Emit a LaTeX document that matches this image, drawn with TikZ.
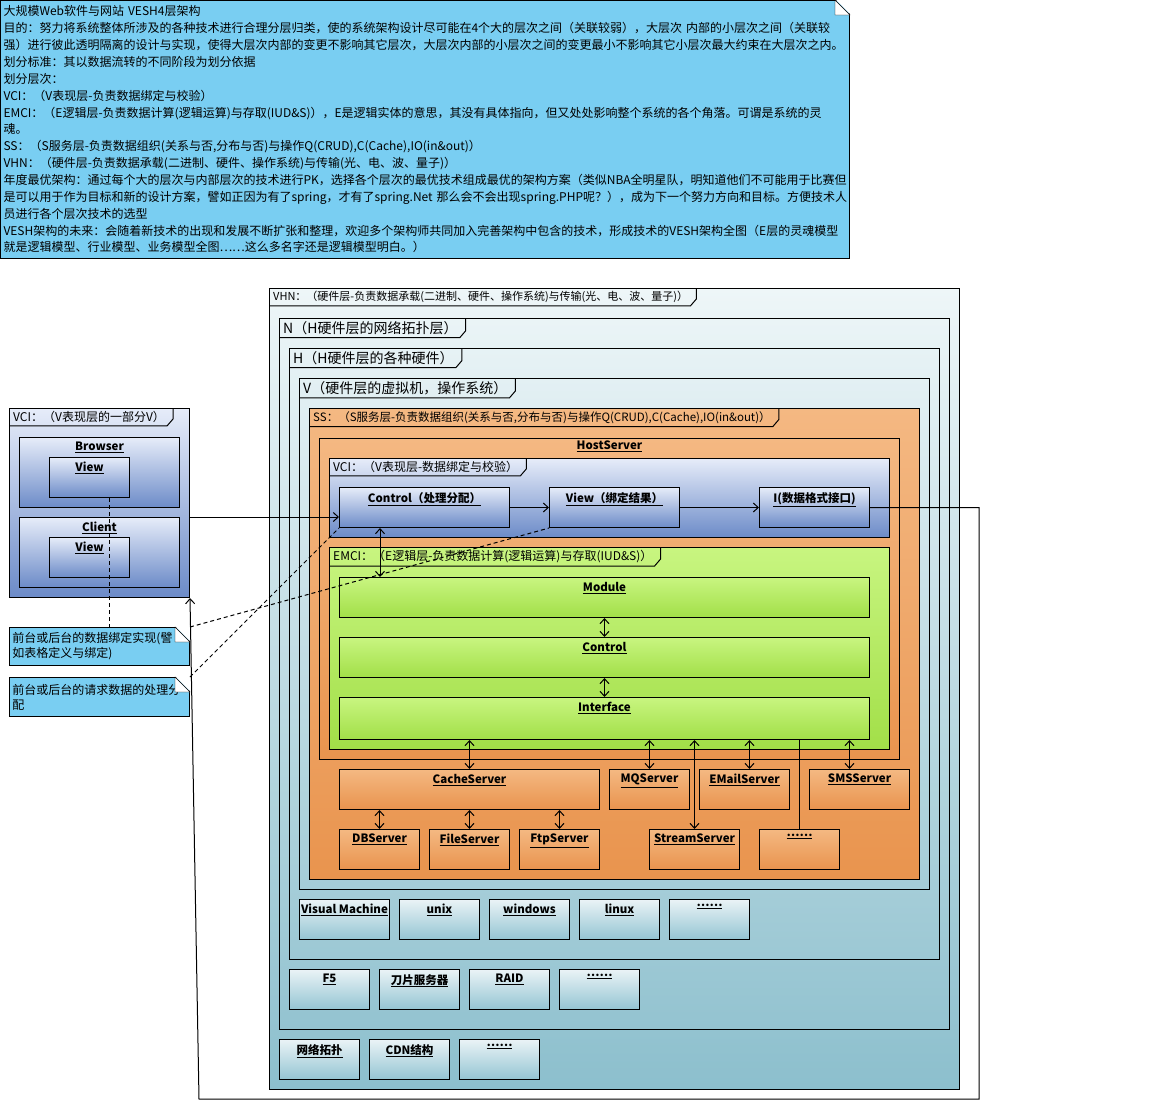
\documentclass[tikz,border=0pt]{standalone}
\usepackage{fontspec}
\setmainfont{Noto Sans CJK SC}
\usetikzlibrary{arrows.meta, calc, positioning}

\definecolor{notebg}{RGB}{121,206,242}
\definecolor{vhntop}{RGB}{238,246,248}
\definecolor{vhnbot}{RGB}{140,191,205}
\definecolor{hwtop}{RGB}{234,243,246}
\definecolor{hwbot}{RGB}{148,197,211}
\definecolor{orgtop}{RGB}{244,184,130}
\definecolor{orgbot}{RGB}{233,148,78}
\definecolor{blutop}{RGB}{230,236,249}
\definecolor{blubot}{RGB}{108,139,200}
\definecolor{grntop}{RGB}{200,245,128}
\definecolor{grnbot}{RGB}{162,223,72}

\begin{document}
\begin{tikzpicture}[x=1pt, y=-1pt,
    box/.style={draw, line width=1pt, anchor=north west, inner sep=0pt, minimum width=80, minimum height=40},
    frame/.style={draw, line width=1pt, anchor=north west, inner sep=0pt},
    ttl/.style={anchor=north, inner xsep=3pt, inner ysep=5pt, font=\fontsize{11.5}{13}\selectfont\bfseries},
    tbox/.style={box, label={[ttl]north:\underline{#1}}},
    tab/.style={anchor=north west, inner xsep=4pt, inner ysep=3pt},
    note/.style={draw, line width=1pt, fill=notebg, anchor=north west, align=left, inner sep=3pt},
    blu/.style={top color=blutop, bottom color=blubot},
    orng/.style={top color=orgtop, bottom color=orgbot},
    grn/.style={top color=grntop, bottom color=grnbot},
    hw/.style={top color=hwtop, bottom color=hwbot},
    arr/.style={line width=1pt, -{Straight Barb[length=5pt, width=9pt]}},
    dbl/.style={line width=1pt, {Straight Barb[length=5pt, width=9pt]}-{Straight Barb[length=5pt, width=9pt]}},
    dsh/.style={line width=1pt, dash pattern=on 4pt off 3pt}]
    \useasboundingbox (0,0) rectangle (1154,1117);

    % the long note on top
    \node[note, text width=843, minimum height=258, font=\fontsize{12}{16.86}\selectfont] (topnote) at (0,0) {%
        大规模Web软件与网站  VESH4层架构\\
        目的：努力将系统整体所涉及的各种技术进行合理分层归类，使的系统架构设计尽可能在4个大的层次之间（关联较弱），大层次 内部的小层次之间（关联较\\
        强）进行彼此透明隔离的设计与实现，使得大层次内部的变更不影响其它层次，大层次内部的小层次之间的变更最小不影响其它小层次最大约束在大层次之内。\\
        划分标准：其以数据流转的不同阶段为划分依据\\
        划分层次：\\
        VCI：（V表现层-负责数据绑定与校验）\\
        EMCI：（E逻辑层-负责数据计算(逻辑运算)与存取(IUD\&S)），E是逻辑实体的意思，其没有具体指向，但又处处影响整个系统的各个角落。可谓是系统的灵\\
        魂。\\
        SS：（S服务层-负责数据组织(关系与否,分布与否)与操作Q(CRUD),C(Cache),IO(in\&out)）\\
        VHN：（硬件层-负责数据承载(二进制、硬件、操作系统)与传输(光、电、波、量子)）\\
        年度最优架构：通过每个大的层次与内部层次的技术进行PK，选择各个层次的最优技术组成最优的架构方案（类似NBA全明星队，明知道他们不可能用于比赛但\\
        是可以用于作为目标和新的设计方案，譬如正因为有了spring，才有了spring.Net 那么会不会出现spring.PHP呢？），成为下一个努力方向和目标。方便技术人\\
        员进行各个层次技术的选型\\
        VESH架构的未来：会随着新技术的出现和发展不断扩张和整理，欢迎多个架构师共同加入完善架构中包含的技术，形成技术的VESH架构全图（E层的灵魂模型\\
        就是逻辑模型、行业模型、业务模型全图……这么多名字还是逻辑模型明白。）};

    % hardware frames
    \node[frame, minimum width=690, minimum height=801, top color=vhntop, bottom color=vhnbot] (vhn) at (269,288) {};
    \node[tab, font=\fontsize{11}{13}\selectfont] (vhnT) at (vhn.north west) {VHN：（硬件层-负责数据承载(二进制、硬件、操作系统)与传输(光、电、波、量子)）};
    \node[frame, minimum width=670, minimum height=711] (nfr) at (279,318) {};
    \node[tab, font=\fontsize{14}{16}\selectfont] (nT) at (nfr.north west) {N（H硬件层的网络拓扑层）};
    \node[frame, minimum width=650, minimum height=611] (hfr) at (289,348) {};
    \node[tab, font=\fontsize{14}{16}\selectfont] (hT) at (hfr.north west) {H（H硬件层的各种硬件）};
    \node[frame, minimum width=630, minimum height=511] (vfr) at (299,378) {};
    \node[tab, font=\fontsize{14}{16}\selectfont] (vT) at (vfr.north west) {V（硬件层的虚拟机，操作系统）};

    % service layer
    \node[frame, orng, minimum width=610, minimum height=471] (ss) at (309,408) {};
    \node[tab, font=\fontsize{11.5}{13}\selectfont] (ssT) at (ss.north west) {SS：（S服务层-负责数据组织(关系与否,分布与否)与操作Q(CRUD),C(Cache),IO(in\&out)）};
    \node[frame, orng, minimum width=580, minimum height=321, label={[ttl, inner ysep=3pt]north:\underline{HostServer}}] (host) at (319,438) {};

    \node[frame, blu, minimum width=560, minimum height=79] (vci) at (329,458) {};
    \node[tab, font=\fontsize{12}{14}\selectfont] (vciT) at (vci.north west) {VCI：（V表现层-数据绑定与校验）};
    \node[tbox={Control（处理分配）}, blu, minimum width=170] (ctl) at (339,487) {};
    \node[tbox={View（绑定结果）}, blu, minimum width=130] (view) at (549,487) {};
    \node[tbox={I(数据格式接口)}, blu, minimum width=110] (ifmt) at (759,487) {};

    \node[frame, grn, minimum width=560, minimum height=202] (emci) at (329,547) {};
    \node[tab, font=\fontsize{12}{14}\selectfont] (emciT) at (emci.north west) {EMCI：（E逻辑层-负责数据计算(逻辑运算)与存取(IUD\&S)）};
    \node[tbox=Module, grn, minimum width=530] (module) at (339,577) {};
    \node[tbox=Control, grn, minimum width=530] (ectl) at (339,637) {};
    \node[tbox=Interface, grn, minimum width=530, minimum height=42] (intf) at (339,697) {};

    \node[tbox=CacheServer, orng, minimum width=260] (cache) at (339,769) {};
    \node[tbox=MQServer, orng] (mq) at (609,769) {};
    \node[tbox=EMailServer, orng, minimum width=90] (email) at (699,769) {};
    \node[tbox=SMSServer, orng, minimum width=100] (sms) at (809,769) {};
    \node[tbox=DBServer, orng] (db) at (339,829) {};
    \node[tbox=FileServer, orng] (file) at (429,829) {};
    \node[tbox=FtpServer, orng] (ftp) at (519,829) {};
    \node[tbox=StreamServer, orng, minimum width=90] (stream) at (649,829) {};
    \node[tbox=……, orng] (more1) at (759,829) {};

    % virtual machines, hardware, network
    \node[tbox={Visual Machine}, hw, minimum width=90] (vm) at (299,899) {};
    \node[tbox=unix, hw] (unix) at (399,899) {};
    \node[tbox=windows, hw] (win) at (489,899) {};
    \node[tbox=linux, hw] (linux) at (579,899) {};
    \node[tbox=……, hw] (more2) at (669,899) {};
    \node[tbox=F5, hw] (f5) at (289,969) {};
    \node[tbox=刀片服务器, hw] (blade) at (379,969) {};
    \node[tbox=RAID, hw] (raid) at (469,969) {};
    \node[tbox=……, hw] (more3) at (559,969) {};
    \node[tbox=网络拓扑, hw] (net) at (279,1039) {};
    \node[tbox=CDN结构, hw] (cdn) at (369,1039) {};
    \node[tbox=……, hw] (more4) at (459,1039) {};

    % client side
    \node[frame, blu, minimum width=180, minimum height=189] (lvci) at (9,408) {};
    \node[tab, font=\fontsize{12}{14}\selectfont] (lvciT) at (lvci.north west) {VCI：（V表现层的一部分V）};
    \node[tbox=Browser, blu, minimum width=160, minimum height=70] (browser) at (19,437) {};
    \node[tbox=View, blu] (bview) at (49,457) {};
    \node[tbox=Client, blu, minimum width=160, minimum height=70] (client) at (19,517) {};
    \node[tbox=View, blu] (cview) at (49,537) {};

    \node[note, text width=174, minimum height=38, font=\fontsize{12}{15}\selectfont] (note1) at (9,627) {前台或后台的数据绑定实现(譬\\如表格定义与绑定)};
    \node[note, text width=174, minimum height=39, font=\fontsize{12}{15}\selectfont] (note2) at (9,677) {前台或后台的请求数据的处理分\\配};

    % tabs and folded corners
    \foreach \t in {vhnT, nT, hT, vT, ssT, vciT, emciT, lvciT}
        \draw[line width=1pt] (\t.south west) -- ([xshift=-2]\t.south east) -- ([xshift=4,yshift=7]\t.south east) -- ([xshift=4]\t.north east);
    \foreach \n in {topnote, note1, note2} {
        \fill[white] ([xshift=-15,yshift=1]\n.north east) -- ([xshift=1,yshift=1]\n.north east) -- ([xshift=1,yshift=-15]\n.north east) -- cycle;
        \draw[fill=white] ([xshift=-15]\n.north east) -- ([xshift=-15,yshift=-15]\n.north east) -- ([yshift=-15]\n.north east) -- cycle;
    }

    % connectors
    \coordinate (rt) at (979,1099);
    \coordinate (lb) at (199,1099);
    \draw[arr] (client.north -| lvci.east) -- (client.north -| ctl.west);
    \draw[arr] (ctl.east) -- (view.west);
    \draw[arr] (view.east) -- (ifmt.west);
    \draw[arr] (ifmt.east) -| (rt) -- (lb) -- (lvci.south east);
    \draw[dbl] ([xshift=41]ctl.south west) -- ([xshift=41]module.north west);
    \draw[dbl] (module.south) -- (ectl.north);
    \draw[dbl] (ectl.south) -- (intf.north);
    \draw[dbl] (intf.south -| cache.north) -- (cache.north);
    \draw[dbl] (intf.south -| mq.north) -- (mq.north);
    \draw[dbl] ([xshift=5]intf.south -| email.north) -- ([xshift=5]email.north);
    \draw[dbl] ([xshift=-10]intf.south -| sms.north) -- ([xshift=-10]sms.north);
    \draw[dbl] (intf.south -| stream.north) -- (stream.north);
    \draw[line width=1pt] (intf.south -| more1.north) -- (more1.north);
    \foreach \s in {db, file, ftp}
        \draw[dbl] (cache.south -| \s.north) -- (\s.north);
    \draw[dsh] ([xshift=20]bview.south) -- ([xshift=20]bview.south |- note1.north);
    \draw[dsh] (note1.north east) -- (view.south west);
    \draw[dsh] (note2.north east) -- (ctl.south west);
\end{tikzpicture}
\end{document}
